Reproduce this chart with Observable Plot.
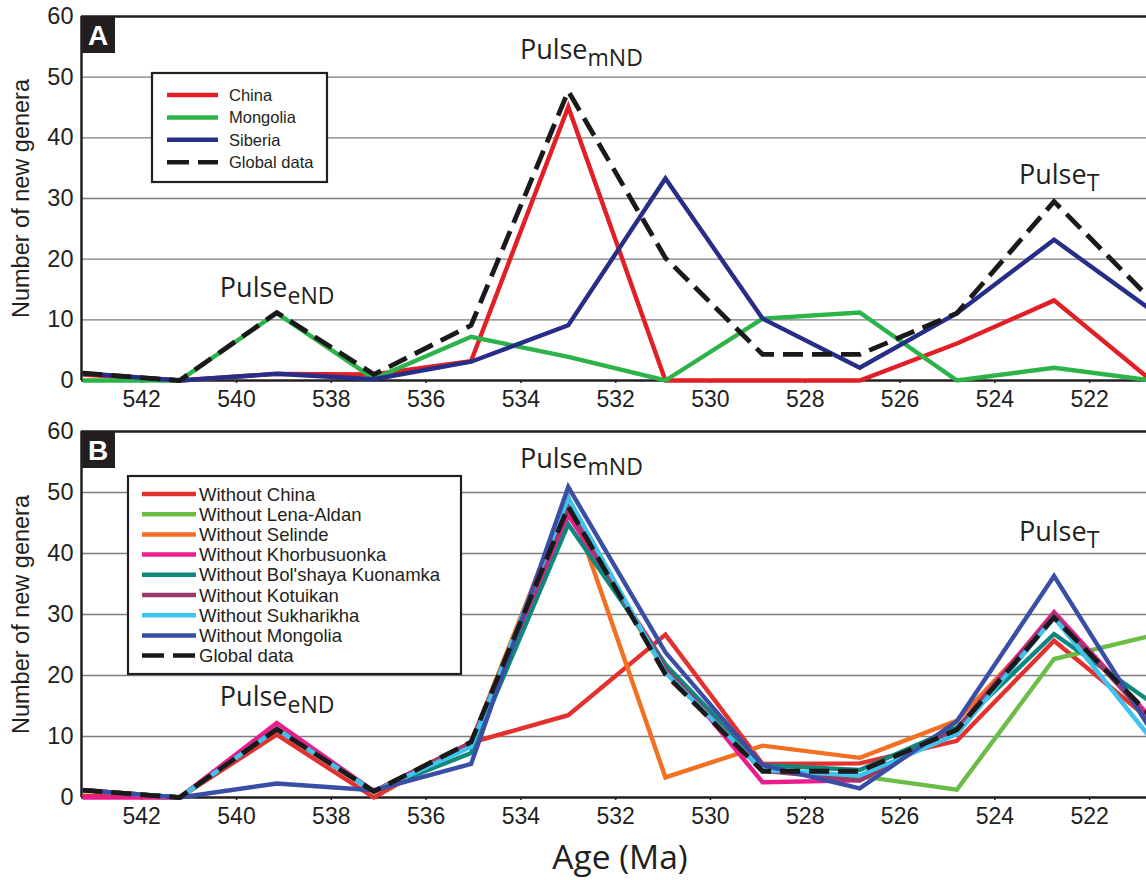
<!DOCTYPE html>
<html><head><meta charset="utf-8">
<script src="https://cdn.jsdelivr.net/npm/d3@7"></script>
<script src="https://cdn.jsdelivr.net/npm/@observablehq/plot@0.6"></script>
<style>
body{margin:0;background:#fff;}
#chart{width:1146px;}
#chart svg{display:block;overflow:visible;}
</style></head><body><div id="chart"></div>
<script>
// ---- data ----
const ages = [543.25, 541.2, 539.15, 537.1, 535.05, 533.0, 530.95, 528.9, 526.85, 524.8, 522.75, 520.7];
const xTicks = [542, 540, 538, 536, 534, 532, 530, 528, 526, 524, 522];
const yTicks = [0, 10, 20, 30, 40, 50, 60];
const gridValues = [10, 20, 30, 40, 50];

// Panel A
const globalData = [1.2, 0, 11.2, 1, 9.1, 47.7, 20.2, 4.3, 4.3, 11.1, 29.5, 13.3];
const china      = [1, 0, 1.1, 1, 3.2, 45.1, 0, 0, 0, 6.1, 13.2, 0];
const mongolia   = [0, 0, 11.1, 0.3, 7.2, 3.9, 0, 10.2, 11.2, 0, 2.1, 0];
const siberia    = [1.2, 0, 1.1, 0.2, 3.1, 9.1, 33.3, 10.2, 2.1, 11.1, 23.2, 11.6];

// Panel B
const woChina        = [0.3, 0, 10.3, 0, 9.0, 13.5, 26.7, 5.5, 5.6, 9.3, 25.7, 12.6];
const woLenaAldan    = [1.2, 0, 11.2, 1, 9.0, 47.5, 20.5, 4.4, 3.5, 1.3, 22.7, 26.5];
const woSelinde      = [1.2, 0, 11.2, 1, 9.0, 49.3, 3.3, 8.5, 6.5, 12.6, 29.5, 13.0];
const woKhorbusuonka = [0, 0, 12.2, 1, 9.0, 46.3, 21.8, 2.5, 2.8, 11.2, 30.4, 13.0];
const woBolshaya     = [1.2, 0, 11.2, 1, 7.3, 44.8, 21.8, 5.3, 4.5, 11.5, 26.8, 15.6];
const woKotuikan     = [1.2, 0, 11.2, 1, 9.0, 47.5, 21.0, 4.4, 2.8, 11.2, 30.0, 12.5];
const woSukharikha   = [1.2, 0, 11.2, 1, 8.3, 49.1, 20.5, 4.5, 3.6, 10.4, 29.5, 9.6];
const woMongolia     = [1.2, 0, 2.3, 1.2, 5.5, 50.9, 23.8, 5.3, 1.5, 12.5, 36.3, 11.0];

const seriesA = [
  {name: "China", values: china, color: "#e21f26"},
  {name: "Mongolia", values: mongolia, color: "#2cb34a"},
  {name: "Siberia", values: siberia, color: "#262e87"},
  {name: "Global data", values: globalData, color: "#1a1a1a", dash: true}
];
const seriesB = [
  {name: "Without China", values: woChina, color: "#e2312f"},
  {name: "Without Lena-Aldan", values: woLenaAldan, color: "#6cbd45"},
  {name: "Without Selinde", values: woSelinde, color: "#f36f21"},
  {name: "Without Khorbusuonka", values: woKhorbusuonka, color: "#ec1c8c"},
  {name: "Without Bol'shaya Kuonamka", values: woBolshaya, color: "#10877d"},
  {name: "Without Kotuikan", values: woKotuikan, color: "#9a3a6b"},
  {name: "Without Sukharikha", values: woSukharikha, color: "#3ec3ef"},
  {name: "Without Mongolia", values: woMongolia, color: "#3a4ea6"},
  {name: "Global data", values: globalData, color: "#1a1a1a", dash: true}
];
const pulsesA = [
  {main: "Pulse", sub: "eND", x: 540.34, y: 13.7},
  {main: "Pulse", sub: "mND", x: 534.01, y: 52.9},
  {main: "Pulse", sub: "T", x: 523.48, y: 32.3}
];
const pulsesB = [
  {main: "Pulse", sub: "eND", x: 540.34, y: 15.0},
  {main: "Pulse", sub: "mND", x: 534.01, y: 53.9},
  {main: "Pulse", sub: "T", x: 523.48, y: 42.0}
];

const INK = "#231f20";
const SANS = "'Liberation Sans', Arial, Helvetica, sans-serif";
const HUMAN = "'Open Sans', 'Noto Sans', sans-serif";
const xDomain = [543.27, 520.8];

function makePanel({series, height, marginBottom, letter, pulses, legend, xLabel}) {
  const marks = [
    Plot.ruleY(gridValues, {stroke: "#7d7d7d", strokeWidth: 1.3}),
    Plot.ruleY([60], {stroke: INK, strokeWidth: 2.5}),
    Plot.ruleY([0], {stroke: INK, strokeWidth: 2.5}),
    Plot.ruleX([xDomain[0]], {stroke: INK, strokeWidth: 2.5}),
    Plot.axisX({ticks: xTicks, tickSize: 3, tickPadding: 7, tickFormat: d => String(d), fontSize: 23, label: null, stroke: INK, strokeWidth: 1.5, fill: INK}),
    Plot.axisY({ticks: yTicks, tickSize: 0, tickPadding: 8, fontSize: 23.5, fill: INK,
      label: "Number of new genera", labelAnchor: "center", labelOffset: 69, labelArrow: "none"})
  ];
  for (const s of series) {
    const rows = ages.map((a, i) => ({age: a, value: s.values[i]}));
    marks.push(Plot.line(rows, {
      x: "age", y: "value", stroke: s.color,
      strokeWidth: s.dash ? 4.8 : 4.4,
      strokeDasharray: s.dash ? "20,9" : null,
      strokeLinejoin: "miter", strokeMiterlimit: 10, strokeLinecap: "butt"
    }));
  }
  if (xLabel) {
    marks.push(Plot.text([xLabel], {frameAnchor: "bottom", dy: 71, fontSize: 33.5, fontFamily: HUMAN, fill: INK, text: d => d, dx: 6}));
  }
  const plot = Plot.plot({
    width: 1146, height, marginLeft: 81, marginRight: 0, marginTop: 16, marginBottom,
    style: {fontFamily: SANS, color: INK, background: "white", overflow: "visible"},
    x: {domain: xDomain},
    y: {domain: [0, 60]},
    marks
  });
  const svg = d3.select(plot);
  const xs = plot.scale("x").apply, ys = plot.scale("y").apply;
  // panel letter
  svg.append("rect").attr("x", 81).attr("y", 16).attr("width", 34).attr("height", 37).attr("fill", INK);
  svg.append("text").attr("x", 98).attr("y", 45).attr("text-anchor", "middle")
    .attr("font-family", SANS).attr("font-weight", "bold").attr("font-size", 28).attr("fill", "white").text(letter);
  // pulse annotations
  for (const p of pulses) {
    const t = svg.append("text").attr("x", xs(p.x)).attr("y", ys(p.y)).attr("text-anchor", "start")
      .attr("font-family", HUMAN).attr("font-size", 27).attr("fill", INK);
    t.append("tspan").text(p.main);
    t.append("tspan").attr("font-size", 23).attr("dy", 7).text(p.sub);
  }
  // legend
  const L = legend;
  svg.append("rect").attr("x", L.x).attr("y", L.y).attr("width", L.w).attr("height", L.h)
    .attr("fill", "white").attr("stroke", INK).attr("stroke-width", 2.2);
  series.forEach((s, i) => {
    const cy = L.row0 + i * L.step;
    svg.append("line").attr("x1", L.sx1).attr("x2", L.sx2).attr("y1", cy).attr("y2", cy)
      .attr("stroke", s.color).attr("stroke-width", 4.5)
      .attr("stroke-dasharray", s.dash ? "22,9" : null);
    svg.append("text").attr("x", L.tx).attr("y", cy).attr("dy", "0.36em").attr("text-anchor", "start")
      .attr("font-family", SANS).attr("font-size", L.fs).attr("fill", INK).text(s.name);
  });
  return plot;
}

const chart = document.getElementById("chart");
chart.appendChild(makePanel({
  series: seriesA, height: 415, marginBottom: 35, letter: "A", pulses: pulsesA,
  legend: {x: 152, y: 73, w: 175, h: 109, row0: 95, step: 22.4, sx1: 167, sx2: 218, tx: 229, fs: 16.5}
}));
chart.appendChild(makePanel({
  series: seriesB, height: 465, marginBottom: 83, letter: "B", pulses: pulsesB, xLabel: "Age (Ma)",
  legend: {x: 128, y: 61, w: 333, h: 198, row0: 79, step: 20.2, sx1: 142, sx2: 196, tx: 199, fs: 18.5}
}));
</script></body></html>
